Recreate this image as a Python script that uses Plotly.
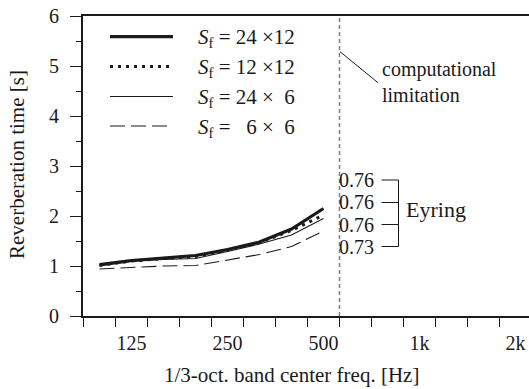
import plotly.graph_objects as go

# ---- data ----
all_bands = ["100", "125", "160", "200", "250", "315", "400", "500",
             "630", "800", "1k", "1.25k", "1.6k", "2k"]
bands = ["100", "125", "160", "200", "250", "315", "400", "500"]
rt_24x12 = [1.03, 1.11, 1.16, 1.21, 1.33, 1.48, 1.74, 2.15]
rt_12x12 = [1.01, 1.10, 1.15, 1.19, 1.32, 1.47, 1.71, 2.02]
rt_24x6 = [1.00, 1.09, 1.13, 1.15, 1.29, 1.44, 1.62, 1.95]
rt_6x6 = [0.94, 0.97, 1.00, 1.01, 1.12, 1.23, 1.39, 1.70]
tick_labels = ["125", "250", "500", "1k", "2k"]
eyring = ["0.76", "0.76", "0.76", "0.73"]
legend_labels = ["<i>S</i><sub>f</sub> = 24 ×12", "<i>S</i><sub>f</sub> = 12 ×12",
                 "<i>S</i><sub>f</sub> = 24 ×  6", "<i>S</i><sub>f</sub> =   6 ×  6"]

FONT = "Liberation Serif, Times New Roman, serif"
INK = "#1a1a1a"

xs = [all_bands.index(b) for b in bands]
styles = [
    dict(color=INK, width=3.2),
    dict(color=INK, width=3, dash="3px,5px"),
    dict(color=INK, width=1.1),
    dict(color=INK, width=1.1, dash="15px,6px"),
]
series = [rt_24x12, rt_12x12, rt_24x6, rt_6x6]

fig = go.Figure()
for ys, st, name in zip(series, styles, legend_labels):
    fig.add_trace(go.Scatter(x=xs, y=ys, mode="lines", line=st, name=name,
                             showlegend=False, hoverinfo="skip"))

# plot-area pixel geometry for decorations
L, R, T, B = 83.0, 529.0, 16.0, 316.0
def px(x):
    return (x - L) / (R - L)
def py(y):
    return (B - y) / (B - T)

shapes = []
annotations = []

# vertical computational limit line at boundary 500|630
shapes.append(dict(type="line", xref="x", yref="y", x0=7.5, x1=7.5, y0=0, y1=6,
                   line=dict(color="#808080", width=1.5, dash="4px,3px")))

# legend
leg_rows = [36.7, 66.5, 96.5, 126.0]
for row, st, lab in zip(leg_rows, styles, legend_labels):
    shapes.append(dict(type="line", xref="paper", yref="paper",
                       x0=px(110), x1=px(173), y0=py(row), y1=py(row), line=st))
    annotations.append(dict(xref="paper", yref="paper", x=px(196), y=py(row + 1.5),
                            text=lab, showarrow=False, xanchor="left", yanchor="middle",
                            font=dict(family=FONT, size=21, color=INK)))

# computational limitation
shapes.append(dict(type="line", xref="paper", yref="paper",
                   x0=px(340), y0=py(51.7), x1=px(378), y1=py(82.7),
                   line=dict(color=INK, width=1)))
annotations.append(dict(xref="paper", yref="paper", x=px(380), y=py(82),
                        text="computational<br>limitation", showarrow=False,
                        xanchor="left", yanchor="middle", align="left",
                        font=dict(family=FONT, size=20, color=INK)))

# Eyring values and bracket
ey_rows = [180.0, 202.5, 224.5, 246.5]
for row, t in zip(ey_rows, eyring):
    annotations.append(dict(xref="paper", yref="paper", x=px(337), y=py(row),
                            text=t, showarrow=False, xanchor="left", yanchor="middle",
                            font=dict(family=FONT, size=20, color=INK)))
    shapes.append(dict(type="line", xref="paper", yref="paper",
                       x0=px(381.5), x1=px(398.5), y0=py(row), y1=py(row),
                       line=dict(color=INK, width=1)))
shapes.append(dict(type="line", xref="paper", yref="paper",
                   x0=px(398.5), x1=px(398.5), y0=py(ey_rows[0]), y1=py(ey_rows[-1]),
                   line=dict(color=INK, width=1)))
annotations.append(dict(xref="paper", yref="paper", x=px(404), y=py(209),
                        text="Eyring", showarrow=False, xanchor="left", yanchor="middle",
                        font=dict(family=FONT, size=22, color=INK)))

# axis titles
annotations.append(dict(xref="paper", yref="paper", x=px(291), y=py(374.5),
                        text="1/3-oct. band center freq. [Hz]", showarrow=False,
                        xanchor="center", yanchor="middle",
                        font=dict(family=FONT, size=21, color=INK)))
annotations.append(dict(xref="paper", yref="paper", x=px(17), y=py(165),
                        text="Reverberation time [s]", showarrow=False, textangle=-90,
                        xanchor="center", yanchor="middle",
                        font=dict(family=FONT, size=21, color=INK)))

x0 = -0.5 - 0.5 / 32.0
x1 = x0 + (R - L) / 32.0
fig.update_layout(
    width=529, height=389,
    margin=dict(l=83, r=0, t=16, b=73, pad=0),
    paper_bgcolor="white", plot_bgcolor="white",
    shapes=shapes, annotations=annotations,
    font=dict(family=FONT, size=20, color=INK),
    xaxis=dict(range=[x0, x1], showgrid=False, zeroline=False,
               showline=True, linecolor=INK, linewidth=2, mirror=True,
               tickmode="array",
               tickvals=[all_bands.index(t) for t in tick_labels],
               ticktext=tick_labels, ticks="outside", ticklen=8,
               tickcolor="rgba(0,0,0,0)",
               tickfont=dict(family=FONT, size=20, color=INK),
               minor=dict(tickmode="array",
                          tickvals=[k - 0.5 for k in range(len(all_bands))],
                          ticks="outside", ticklen=9, tickcolor=INK, tickwidth=1.2)),
    yaxis=dict(range=[0, 6], showgrid=False, zeroline=False,
               showline=True, linecolor=INK, linewidth=2,
               tickmode="array", tickvals=[0, 1, 2, 3, 4, 5, 6],
               ticks="outside", ticklen=11, tickcolor=INK, tickwidth=1.2,
               ticklabelstandoff=7,
               tickfont=dict(family=FONT, size=20, color=INK),
               minor=dict(dtick=0.5, ticks="outside", ticklen=5,
                          tickcolor=INK, tickwidth=1.2)),
)

fig.write_html("out.html")
